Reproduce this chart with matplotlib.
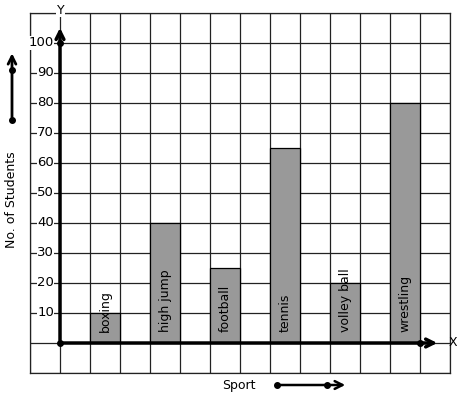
import matplotlib
matplotlib.use("Agg")
from matplotlib import pyplot as plt

sports = ["boxing", "high jump", "football", "tennis", "volley ball", "wrestling"]
students = [10, 40, 25, 65, 20, 80]
bar_left = [1, 3, 5, 7, 9, 11]
yticks = [10, 20, 30, 40, 50, 60, 70, 80, 90, 100]

fig = plt.figure(figsize=(4.57, 3.99), dpi=100)
W, H = 457, 399
ax = fig.add_axes([30 / W, (H - 373) / H, 420 / W, 360 / H])
ax.set_xlim(-1, 13)
ax.set_ylim(-10, 110)

# grid of cells
ax.set_xticks(range(-1, 14))
ax.set_yticks(range(-10, 111, 10))
ax.tick_params(length=0, labelbottom=False, labelleft=False)
ax.grid(True, color="#222222", linewidth=0.9)
ax.set_axisbelow(True)
for s in ax.spines.values():
    s.set_color("#222222")
    s.set_linewidth(0.9)

# bars
ax.bar([b + 0.5 for b in bar_left], students, width=1, color="#999999",
       edgecolor="black", linewidth=0.9, zorder=3)
for b, name in zip(bar_left, sports):
    ax.text(b + 0.5, 3.7, name, rotation=90, ha="center", va="bottom",
            fontsize=9, zorder=4)

# tick labels with white boxes over the grid
for t in yticks:
    ax.text(-0.2, t, str(t), ha="right", va="center", fontsize=9.5,
            bbox=dict(facecolor="white", edgecolor="none", pad=0.2), zorder=4)

# axes arrows
ax.annotate("", xy=(0, 106), xytext=(0, 0),
            arrowprops=dict(arrowstyle="->", lw=2.5, color="black",
                            mutation_scale=14), zorder=5)
ax.annotate("", xy=(12.67, 0), xytext=(0, 0),
            arrowprops=dict(arrowstyle="->", lw=2.5, color="black",
                            mutation_scale=14), zorder=5)
ax.plot([0, 0, 12], [0, 100, 0], "o", color="black", markersize=4, zorder=6)
ax.text(0.03, 111, "Y", ha="center", va="center", fontsize=9,
        bbox=dict(facecolor="white", edgecolor="none", pad=0.5), clip_on=False)
ax.text(12.95, 0.3, "X", ha="left", va="center", fontsize=9, clip_on=False)

# side arrows and labels
ax.annotate("", xy=(-1.6, 97.5), xytext=(-1.6, 74.3),
            arrowprops=dict(arrowstyle="->", lw=2, color="black",
                            mutation_scale=14), annotation_clip=False)
ax.plot([-1.6, -1.6], [74.3, 91], "o", color="black", markersize=4, clip_on=False)
ax.text(-1.6, 47.7, "No. of Students", rotation=90, ha="center", va="center",
        fontsize=9, clip_on=False)

ax.annotate("", xy=(9.6, -14), xytext=(7.23, -14),
            arrowprops=dict(arrowstyle="->", lw=1.8, color="black",
                            mutation_scale=14), annotation_clip=False)
ax.plot([7.23, 8.9], [-14, -14], "o", color="black", markersize=4, clip_on=False)
ax.text(5.95, -14, "Sport", ha="center", va="center", fontsize=9, clip_on=False)

fig.savefig("out.png", dpi=100)
